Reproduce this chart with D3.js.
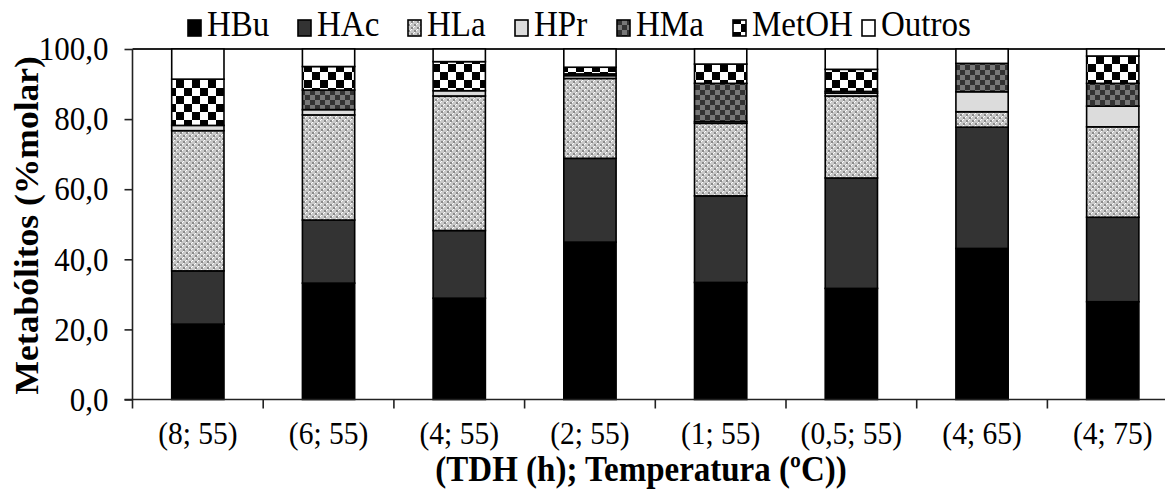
<!DOCTYPE html>
<html>
<head>
<meta charset="utf-8">
<script src="https://cdn.jsdelivr.net/npm/d3@7"></script>
<style>
  html, body { margin: 0; padding: 0; background: #fff; }
  svg { display: block; }
  text { font-family: "Liberation Serif", "Times New Roman", serif; fill: #000; }
</style>
</head>
<body>
<svg id="chart" width="1165" height="489"></svg>
<script>
// Operating conditions (TDH in h; temperature in °C)
const categories = ["(8; 55)", "(6; 55)", "(4; 55)", "(2; 55)", "(1; 55)", "(0,5; 55)", "(4; 65)", "(4; 75)"];

// Metabolite distribution, % molar
const HBu    = [21.5, 33.2, 28.9, 44.9, 33.4, 31.7, 43.1, 27.9];
const HAc    = [15.2, 18.0, 19.3, 23.9, 24.7, 31.5, 34.6, 24.1];
const HLa    = [40.0, 30.0, 38.4, 22.8, 20.7, 23.4,  4.4, 25.8];
const HPr    = [ 1.5,  1.5,  1.5,  0.8,  0.5,  0.8,  5.7,  5.9];
const HMa    = [ 0.0,  5.6,  0.0,  0.5, 10.9,  0.5,  8.1,  6.5];
const MetOH  = [13.2,  6.7,  8.3,  1.9,  5.5,  6.3,  0.0,  7.8];
const Outros = [ 8.6,  5.0,  3.6,  5.2,  4.3,  5.8,  4.1,  2.0];

const seriesNames = ["HBu", "HAc", "HLa", "HPr", "HMa", "MetOH", "Outros"];
const seriesValues = [HBu, HAc, HLa, HPr, HMa, MetOH, Outros];
const yTicks = [0, 20, 40, 60, 80, 100];

const svg = d3.select("#chart");
const defs = svg.append("defs");

// Text in this figure is set slightly tall
const TALL = 1.08;

// Fill patterns
// HLa: fine grey diamond hatch
const pLa = defs.append("pattern").attr("id", "pHLa").attr("patternUnits", "userSpaceOnUse")
  .attr("width", 6).attr("height", 6);
pLa.append("rect").attr("width", 6).attr("height", 6).attr("fill", "#c8c8c8");
[[0,0],[3,3]].forEach(([px,py]) => pLa.append("rect").attr("x", px).attr("y", py).attr("width", 2).attr("height", 2).attr("fill", "#8a8a8a"));
[[2,0],[5,3],[0,2],[3,5]].forEach(([px,py]) => pLa.append("rect").attr("x", px).attr("y", py).attr("width", 1).attr("height", 1).attr("fill", "#ffffff"));

// HMa: dark/grey checker
const pMa = defs.append("pattern").attr("id", "pHMa").attr("patternUnits", "userSpaceOnUse")
  .attr("width", 10).attr("height", 10);
pMa.append("rect").attr("width", 10).attr("height", 10).attr("fill", "#333");
pMa.append("rect").attr("x", 5).attr("y", 0).attr("width", 5).attr("height", 5).attr("fill", "#777");
pMa.append("rect").attr("x", 0).attr("y", 5).attr("width", 5).attr("height", 5).attr("fill", "#777");

// MetOH: black/white checker
const pMe = defs.append("pattern").attr("id", "pMetOH").attr("patternUnits", "userSpaceOnUse")
  .attr("width", 16).attr("height", 16);
pMe.append("rect").attr("width", 16).attr("height", 16).attr("fill", "#fff");
pMe.append("rect").attr("x", 0).attr("y", 0).attr("width", 8).attr("height", 8).attr("fill", "#000");
pMe.append("rect").attr("x", 8).attr("y", 8).attr("width", 8).attr("height", 8).attr("fill", "#000");

const fills = {
  HBu: "#000000",
  HAc: "#333333",
  HLa: "url(#pHLa)",
  HPr: "#dcdcdc",
  HMa: "url(#pHMa)",
  MetOH: "url(#pMetOH)",
  Outros: "#ffffff"
};

// Plot area
const plotLeft = 132.5, plotTop = 49, plotBottom = 399.5;
const step = 130.7;
const plotRight = plotLeft + step * categories.length;

const x = d3.scaleBand().domain(categories).range([plotLeft, plotRight])
  .paddingInner(0.6).paddingOuter(0.3);
const y = d3.scaleLinear().domain([0, 100]).range([plotBottom, plotTop]);

// Stack rows
const rows = categories.map((c, i) => {
  const r = { cat: c };
  seriesNames.forEach((s, k) => r[s] = seriesValues[k][i]);
  return r;
});
const stacked = d3.stack().keys(seriesNames)(rows);

// Plot-area frame (top edge)
svg.append("line").attr("x1", plotLeft).attr("x2", plotRight).attr("y1", plotTop).attr("y2", plotTop)
  .attr("stroke", "#222").attr("stroke-width", 2);

// Bars
const layers = svg.append("g").selectAll("g").data(stacked).join("g")
  .attr("fill", d => fills[d.key]);
layers.selectAll("rect").data(d => d).join("rect")
  .attr("x", d => x(d.data.cat))
  .attr("width", x.bandwidth())
  .attr("y", d => y(d[1]))
  .attr("height", d => y(d[0]) - y(d[1]))
  .attr("stroke", "#000")
  .attr("stroke-width", 1.6);

// Y axis
const yAxis = d3.axisLeft(y).tickValues(yTicks).tickSize(8).tickPadding(16)
  .tickFormat(d => d3.format(".1f")(d).replace(".", ","));
const gy = svg.append("g").attr("transform", `translate(${plotLeft},0)`).call(yAxis);
gy.selectAll("path, line").attr("stroke", "#222").attr("stroke-width", 1.6);
gy.selectAll("text").attr("font-size", 31).attr("font-family", "Liberation Serif").attr("fill", "#000")
  .attr("transform", `scale(1,${TALL})`);
gy.select(".domain").attr("d", `M0,${plotBottom}V${plotTop}`);

// X axis: ticks at category boundaries
const gx = svg.append("g");
gx.append("line").attr("x1", plotLeft - 8).attr("x2", plotRight).attr("y1", plotBottom).attr("y2", plotBottom)
  .attr("stroke", "#222").attr("stroke-width", 1.6);
const boundaries = d3.range(categories.length + 1).map(i => plotLeft + i * x.step());
gx.selectAll("line.tk").data(boundaries).join("line").attr("class", "tk")
  .attr("x1", d => d).attr("x2", d => d).attr("y1", plotBottom).attr("y2", plotBottom + 9)
  .attr("stroke", "#222").attr("stroke-width", 1.6);
gx.selectAll("text").data(categories).join("text")
  .attr("transform", d => `translate(${x(d) + x.bandwidth() / 2},443.5) scale(1,1.05)`)
  .attr("text-anchor", "middle")
  .attr("font-size", 29.5)
  .text(d => d);

// Axis titles
svg.append("text")
  .attr("transform", `translate(641,481) scale(1,1.06)`)
  .attr("text-anchor", "middle")
  .attr("font-size", 33).attr("font-weight", "bold")
  .text("(TDH (h); Temperatura (ºC))");

svg.append("text")
  .attr("transform", `translate(38,${(plotTop + plotBottom) / 2 + 1}) rotate(-90) scale(1.045,1)`)
  .attr("text-anchor", "middle")
  .attr("font-size", 34).attr("font-weight", "bold")
  .text("Metabólitos (%molar)");

// Legend
const legendX = [188, 298, 408, 515, 617, 733, 862];
const lg = svg.append("g").selectAll("g").data(seriesNames).join("g")
  .attr("transform", (d, i) => `translate(${legendX[i]},0)`);
lg.append("rect").attr("x", 0).attr("y", 20).attr("width", 13).attr("height", 16)
  .attr("fill", d => fills[d]).attr("stroke", "#000").attr("stroke-width", 1.6);
lg.append("text").attr("transform", `translate(19,36) scale(1,${TALL})`)
  .attr("font-size", 33).text(d => d);
</script>
</body>
</html>
